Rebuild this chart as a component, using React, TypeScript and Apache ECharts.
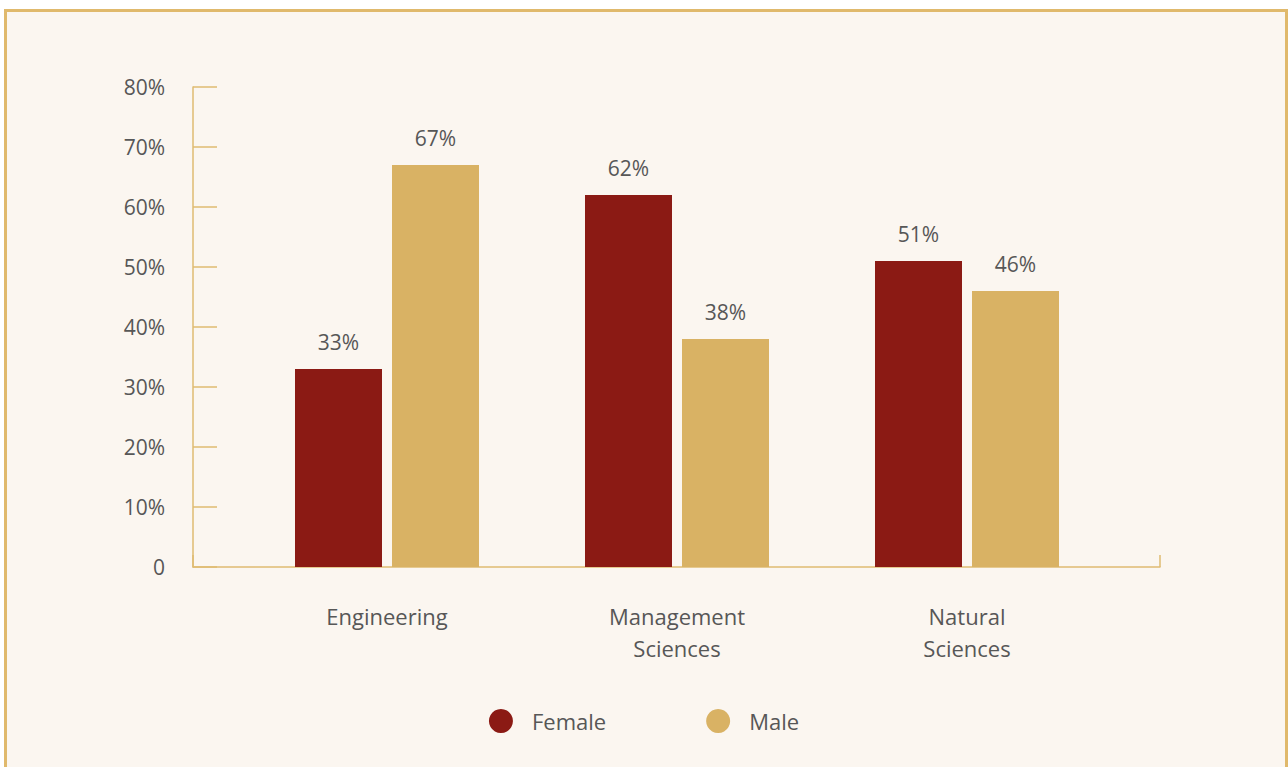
import React, { useEffect, useRef } from "react";
import * as echarts from "echarts";

const categories = ["Engineering", "Management\nSciences", "Natural\nSciences"];
const femaleValues = [33, 62, 51];
const maleValues = [67, 38, 46];
const yTicks = [0, 10, 20, 30, 40, 50, 60, 70, 80];

const RED = "#8b1a14";
const GOLD = "#d9b264";
const AXIS = "#dfbb72";
const TEXT = "#575757";
const FONT = "'Open Sans', Lato, sans-serif";

export default function App() {
  const ref = useRef<HTMLDivElement>(null);
  useEffect(() => {
    document.body.style.margin = "0";
    const chart = echarts.init(ref.current!, null, { renderer: "svg" });
    const yMin = yTicks[0];
    const yMax = yTicks[yTicks.length - 1];
    const labelStyle = {
      show: true,
      position: "top",
      distance: 17,
      color: TEXT,
      fontSize: 21,
      fontFamily: FONT,
      formatter: "{c}%",
    };
    chart.setOption({
      animation: false,
      backgroundColor: "#ffffff",
      textStyle: { fontFamily: FONT },
      graphic: [
        {
          type: "rect",
          z: -10,
          silent: true,
          shape: { x: 5.5, y: 10.5, width: 1281, height: 800 },
          style: { fill: "#fbf6f0", stroke: "#e0b96c", lineWidth: 3 },
        },
      ],
      grid: [
        { left: 242, top: 87, width: 870, height: 480, containLabel: false },
        { left: 193, top: 87, width: 967, height: 480, containLabel: false },
      ],
      xAxis: [
        {
          gridIndex: 0,
          type: "category",
          data: categories,
          axisLine: { show: false },
          axisTick: { show: false },
          axisLabel: {
            color: TEXT,
            fontSize: 22,
            lineHeight: 32,
            margin: 33,
            fontFamily: FONT,
          },
        },
        {
          gridIndex: 1,
          type: "value",
          min: 0,
          max: 1,
          interval: 1,
          splitLine: { show: false },
          axisLine: { show: true, lineStyle: { color: AXIS, width: 1.5 } },
          axisTick: { show: true, inside: true, length: 12, lineStyle: { color: AXIS, width: 1.5 } },
          axisLabel: { show: false },
        },
      ],
      yAxis: [
        {
          gridIndex: 0,
          type: "value",
          min: yMin,
          max: yMax,
          interval: 10,
          show: false,
        },
        {
          gridIndex: 1,
          type: "value",
          min: yMin,
          max: yMax,
          interval: 10,
          splitLine: { show: false },
          axisLine: { show: true, lineStyle: { color: AXIS, width: 1.5 } },
          axisTick: { show: true, inside: true, length: 24, lineStyle: { color: AXIS, width: 1.5 } },
          axisLabel: {
            color: TEXT,
            fontSize: 21,
            margin: 28,
            fontFamily: FONT,
            formatter: (v: number) => (v === 0 ? "0" : v + "%"),
          },
        },
      ],
      legend: {
        bottom: 29,
        left: "center",
        icon: "circle",
        itemWidth: 24,
        itemHeight: 24,
        itemGap: 100,
        textStyle: { color: TEXT, fontSize: 22, fontFamily: FONT, padding: [0, 0, 0, 14] },
        data: ["Female", "Male"],
      },
      series: [
        {
          name: "Female",
          type: "bar",
          xAxisIndex: 0,
          yAxisIndex: 0,
          data: femaleValues,
          barWidth: 87,
          barGap: "11.5%",
          itemStyle: { color: RED },
          label: labelStyle,
        },
        {
          name: "Male",
          type: "bar",
          xAxisIndex: 0,
          yAxisIndex: 0,
          data: maleValues,
          barWidth: 87,
          barGap: "11.5%",
          itemStyle: { color: GOLD },
          label: labelStyle,
        },
      ],
    });
    return () => chart.dispose();
  }, []);
  return (
    <div
      ref={ref}
      style={{ position: "absolute", left: 0, top: 0, width: 1288, height: 767 }}
    />
  );
}
